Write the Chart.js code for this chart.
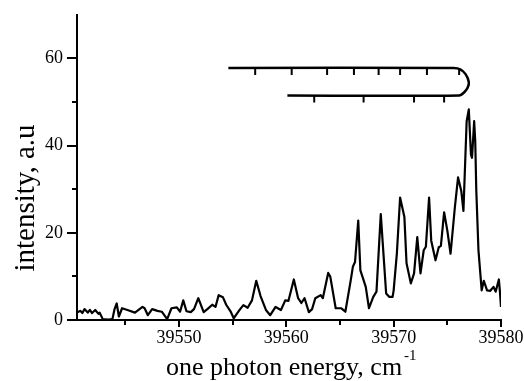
<!DOCTYPE html>
<html><head><meta charset="utf-8">
<style>html,body{margin:0;padding:0;background:#fff}#wrap{width:524px;height:381px}</style>
<script src="https://cdn.jsdelivr.net/npm/chart.js@4/dist/chart.umd.min.js"></script>
</head><body><div id="wrap"><canvas id="c" width="524" height="381"></canvas></div>
<script>
// ---- data ----
const energy = [39540.5,39540.8,39541.0,39541.2,39541.5,39541.7,39541.9,39542.2,39542.5,39542.6,
  39542.9,39543.4,39543.8,39544.0,39544.2,39544.4,39544.7,39545.2,39545.9,39546.6,
  39546.8,39547.1,39547.5,39548.0,39548.4,39548.9,39549.3,39549.8,39550.1,39550.4,
  39550.7,39551.1,39551.4,39551.8,39552.3,39552.7,39553.1,39553.4,39553.7,39554.1,
  39554.4,39554.8,39555.1,39555.5,39555.7,39556.0,39556.4,39556.8,39557.2,39557.6,
  39558.1,39558.5,39559.0,39559.5,39559.9,39560.2,39560.7,39561.1,39561.4,39561.7,
  39562.1,39562.4,39562.7,39563.2,39563.4,39563.9,39564.1,39564.6,39565.1,39565.5,
  39566.0,39566.2,39566.4,39566.7,39566.9,39567.1,39567.4,39567.7,39568.1,39568.4,
  39568.8,39569.3,39569.6,39569.9,39570.0,39570.3,39570.6,39571.0,39571.2,39571.6,
  39571.9,39572.2,39572.5,39572.8,39573.0,39573.3,39573.5,39573.9,39574.2,39574.4,
  39574.7,39575.0,39575.3,39575.7,39576.0,39576.3,39576.5,39576.8,39577.0,39577.2,
  39577.3,39577.5,39577.6,39577.7,39577.9,39578.2,39578.4,39578.7,39579.0,39579.3,
  39579.5,39579.8,39579.9,39580.0];
const intensity = [1.7,2.1,1.6,2.5,1.7,2.3,1.6,2.3,1.4,1.7,
  0.2,0.1,0.2,2.5,3.8,0.8,2.7,2.3,1.7,3.0,
  2.7,1.1,2.5,2.1,1.9,0.2,2.7,2.9,1.9,4.5,
  2.0,1.8,2.5,5.0,1.8,2.6,3.5,3.0,5.7,5.2,
  3.5,2.0,0.4,1.8,2.5,3.4,2.8,4.5,9.0,5.5,
  2.3,1.1,3.0,2.3,4.5,4.4,9.3,5.0,3.9,5.0,
  1.8,2.5,5.0,5.7,5.0,10.8,9.9,2.7,2.7,1.9,
  9.1,12.2,13.3,22.8,11.4,9.9,7.6,2.7,5.3,6.5,
  24.3,6.1,5.3,5.3,6.8,15.3,28.1,23.6,13.0,8.4,
  10.7,19.0,10.7,16.0,16.8,28.1,18.2,13.7,16.7,17.0,
  24.7,20.5,15.2,25.8,32.7,29.6,25.0,45.6,48.3,38.0,
  37.2,45.6,41.0,29.6,16.0,6.8,9.0,6.8,6.7,7.6,
  6.5,9.3,6.5,3.0];

// Fortrat (bandhead) diagram: outline and rotational line marks
const fortratX = [39554.6,39575.6,39576.2,39576.7,39577.0,39576.9,39576.6,39576.1,39560.1];
const fortratY = [57.8,57.8,57.5,56.4,54.6,53.3,52.3,51.5,51.5];
const upperLevel = 57.8, lowerLevel = 51.5, markLen = 1.6;
const upperMarks = [39557.1,39560.5,39563.8,39566.3,39568.6,39570.6,39573.1,39576.1];
const lowerMarks = [39562.6,39567.2,39571.9,39574.7];

const xMajor = [39550,39560,39570,39580];
const xMinor = [39545,39555,39565,39575];
const yMajor = [0,20,40,60];
const yMinor = [10,30,50];
const xTitle = 'one photon energy, cm';
const xTitleSup = '-1';
const yTitle = 'intensity, a.u';

// ---- build datasets ----
const spectrum = energy.map((e,i)=>({x:e,y:intensity[i]}));
const outline = fortratX.map((e,i)=>({x:e,y:fortratY[i]}));
const marks = [];
upperMarks.forEach(v=>{marks.push({x:v,y:upperLevel},{x:v,y:upperLevel-markLen},{x:v,y:null});});
lowerMarks.forEach(v=>{marks.push({x:v,y:lowerLevel},{x:v,y:lowerLevel-markLen},{x:v,y:null});});

Chart.defaults.font.family = '"Liberation Serif", "Times New Roman", serif';
Chart.defaults.color = '#000';

const extras = {
  id:'extras',
  afterDraw(chart){
    const ctx = chart.ctx, xs = chart.scales.x, ys = chart.scales.y;
    ctx.save();
    ctx.strokeStyle = '#000'; ctx.lineWidth = 2;
    xMinor.forEach(v=>{const p=Math.round(xs.getPixelForValue(v)); ctx.beginPath(); ctx.moveTo(p, ys.bottom); ctx.lineTo(p, ys.bottom+5); ctx.stroke();});
    yMinor.forEach(v=>{const p=Math.round(ys.getPixelForValue(v)); ctx.beginPath(); ctx.moveTo(xs.left, p); ctx.lineTo(xs.left-5, p); ctx.stroke();});
    ctx.fillStyle = '#000';
    ctx.textBaseline = 'alphabetic';
    ctx.textAlign = 'left';
    ctx.font = '26px "Liberation Serif"';
    ctx.fillText(xTitle, 166, 375);
    const w = ctx.measureText(xTitle).width;
    ctx.font = '15px "Liberation Serif"';
    ctx.fillText(xTitleSup, 166 + w + 2, 360);
    ctx.translate(34, 198);
    ctx.rotate(-Math.PI/2);
    ctx.textAlign = 'center';
    ctx.font = '29px "Liberation Serif"';
    ctx.fillText(yTitle, 0, 0);
    ctx.restore();
  }
};

new Chart(document.getElementById('c'), {
  type:'line',
  data:{datasets:[
    {data:spectrum, borderColor:'#000', borderWidth:2.2, pointRadius:0, tension:0, fill:false, borderJoinStyle:'round'},
    {data:outline, borderColor:'#000', borderWidth:2.5, pointRadius:0, tension:0.3, fill:false},
    {data:marks, borderColor:'#000', borderWidth:2, pointRadius:0, spanGaps:false, fill:false}
  ]},
  options:{
    responsive:false, animation:false, devicePixelRatio:1,
    layout:{padding:{top:14,right:23,left:0,bottom:0}},
    plugins:{legend:{display:false}, tooltip:{enabled:false}},
    scales:{
      x:{type:'linear', min:39540.5, max:39580,
        afterBuildTicks:s=>{s.ticks = xMajor.map(v=>({value:v}));},
        afterFit:s=>{s.height = 61;},
        grid:{drawOnChartArea:false, drawTicks:true, tickLength:7, color:'#000', lineWidth:2},
        border:{display:true, color:'#000', width:2},
        ticks:{font:{size:18}, color:'#000', padding:0, maxRotation:0, autoSkip:false, callback:v=>String(v)}
      },
      y:{min:0, max:70,
        afterBuildTicks:s=>{s.ticks = yMajor.map(v=>({value:v}));},
        afterFit:s=>{s.width = 77;},
        grid:{drawOnChartArea:false, drawTicks:true, tickLength:10, color:'#000', lineWidth:2},
        border:{display:true, color:'#000', width:2},
        ticks:{font:{size:18}, color:'#000', padding:4, callback:v=>String(v)}
      }
    }
  },
  plugins:[extras]
});
</script>
</body></html>
